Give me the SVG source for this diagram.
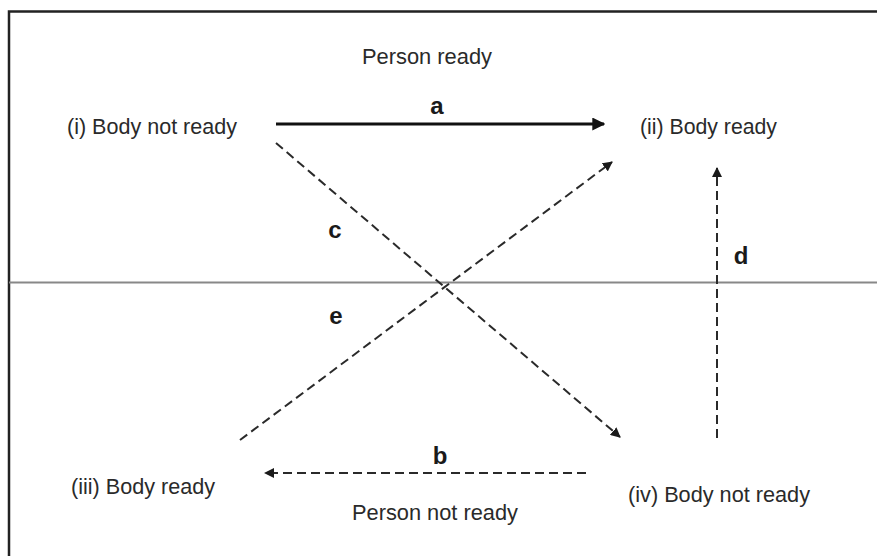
<svg xmlns="http://www.w3.org/2000/svg" width="877" height="556" viewBox="0 0 877 556">
<style>
.t{font-family:"Liberation Sans",Arial,sans-serif;font-size:22.5px;fill:#2a2a2a}
.l{font-family:"Liberation Sans",Arial,sans-serif;font-size:24px;font-weight:bold;fill:#1a1a1a}
.dash{stroke:#2a2a2a;stroke-width:2;stroke-dasharray:9,5;fill:none}
</style>
<defs>
<marker id="ah" viewBox="0 0 10 10" refX="9" refY="5" markerWidth="10" markerHeight="10" markerUnits="userSpaceOnUse" orient="auto">
<path d="M0,0 L10,5 L0,10 Z" fill="#1a1a1a"/>
</marker>
<marker id="ahb" viewBox="0 0 10 10" refX="9" refY="5" markerWidth="13" markerHeight="13" markerUnits="userSpaceOnUse" orient="auto">
<path d="M0,0 L10,5 L0,10 Z" fill="#111"/>
</marker>
</defs>
<rect width="877" height="556" fill="#fff"/>
<g id="frame">
<path d="M9,556 L9,11.5 L877,11.5" stroke="#222" stroke-width="2.5" fill="none"/>
<line x1="9" y1="282.5" x2="877" y2="282.5" stroke="#888" stroke-width="2"/>
</g>
<g id="connectors">
<line id="a" x1="276" y1="124" x2="604" y2="124" stroke="#111" stroke-width="3" marker-end="url(#ahb)"/>
<line id="c" x1="276" y1="143" x2="620" y2="437" class="dash" marker-end="url(#ah)"/>
<line id="e" x1="240" y1="440" x2="612" y2="162" class="dash" marker-end="url(#ah)"/>
<line id="d" x1="717" y1="438" x2="717" y2="168" class="dash" marker-end="url(#ah)"/>
<line id="b" x1="586" y1="473" x2="265" y2="473" class="dash" marker-end="url(#ah)"/>
</g>
<g id="labels">
<text class="l" x="437" y="114" text-anchor="middle">a</text>
<text class="l" x="440" y="464" text-anchor="middle">b</text>
<text class="l" x="335" y="238" text-anchor="middle">c</text>
<text class="l" x="741" y="264" text-anchor="middle">d</text>
<text class="l" x="336" y="324" text-anchor="middle">e</text>
</g>
<g id="person-ready"><text class="t" x="362" y="64" textLength="130" lengthAdjust="spacingAndGlyphs">Person ready</text></g>
<g id="person-not-ready"><text class="t" x="352" y="520" textLength="166" lengthAdjust="spacingAndGlyphs">Person not ready</text></g>
<g id="node-i"><text class="t" x="67" y="134" textLength="170" lengthAdjust="spacingAndGlyphs">(i) Body not ready</text></g>
<g id="node-ii"><text class="t" x="640" y="134" textLength="137" lengthAdjust="spacingAndGlyphs">(ii) Body ready</text></g>
<g id="node-iii"><text class="t" x="71" y="494" textLength="144" lengthAdjust="spacingAndGlyphs">(iii) Body ready</text></g>
<g id="node-iv"><text class="t" x="628" y="502" textLength="182" lengthAdjust="spacingAndGlyphs">(iv) Body not ready</text></g>
</svg>
